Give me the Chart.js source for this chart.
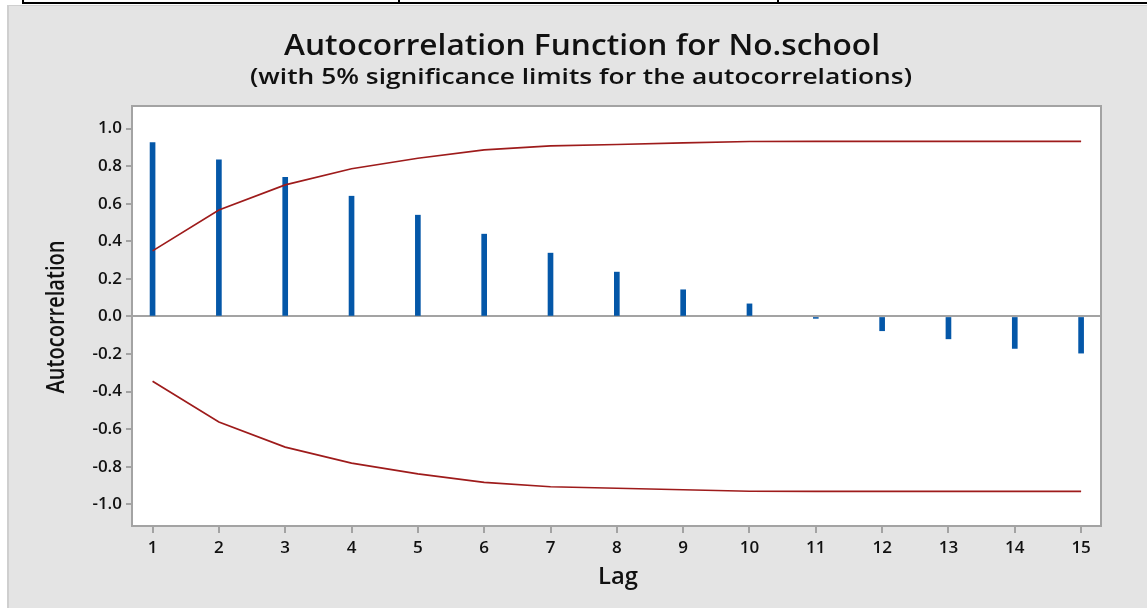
<!DOCTYPE html>
<html lang="en">
<head>
<meta charset="UTF-8">
<title>Autocorrelation Function for No.school</title>
<script src="https://cdn.jsdelivr.net/npm/chart.js"></script>
<style>
  body { margin: 0; background: #fff; }
  #acf { display: block; }
</style>
</head>
<body>
<canvas id="acf" width="1147" height="608"></canvas>
<script>
// values
var lags = [1, 2, 3, 4, 5, 6, 7, 8, 9, 10, 11, 12, 13, 14, 15];
var acfValues = [0.925, 0.833, 0.741, 0.640, 0.539, 0.438, 0.337, 0.236, 0.142, 0.067, -0.010, -0.076, -0.119, -0.170, -0.195];
var upperLimit = [0.349, 0.567, 0.700, 0.786, 0.842, 0.887, 0.908, 0.915, 0.924, 0.931, 0.932, 0.932, 0.932, 0.932, 0.932];
var lowerLimit = [-0.345, -0.562, -0.695, -0.780, -0.838, -0.883, -0.906, -0.914, -0.922, -0.930, -0.931, -0.931, -0.931, -0.931, -0.931];
var yTicks = [-1.0, -0.8, -0.6, -0.4, -0.2, 0.0, 0.2, 0.4, 0.6, 0.8, 1.0];

var mainTitle = 'Autocorrelation Function for No.school';
var subTitle = '(with 5% significance limits for the autocorrelations)';
var yTitle = 'Autocorrelation';
var xTitle = 'Lag';

var FONT = '"Open Sans", "DejaVu Sans", sans-serif';
var axisGray = '#a3a3a3';

function pts(ys) {
    return lags.map(function (x, i) { return { x: x, y: ys[i] }; });
}

// the original picture is stretched, so texts get squeezed/widened to its size
function fitText(c, text, font, cx, cy, width, angle) {
    c.save();
    c.font = font;
    var w = c.measureText(text).width;
    c.translate(cx, cy);
    if (angle) c.rotate(angle);
    c.scale(width / w, 1);
    c.textAlign = 'center';
    c.textBaseline = 'alphabetic';
    c.fillText(text, 0, 0);
    c.restore();
}

// background, the table edge at the top, plot frame and the titles
var framePlugin = {
    id: 'frame',
    beforeDraw: function (chart) {
        var c = chart.ctx, a = chart.chartArea;
        c.save();
        c.fillStyle = '#ffffff';
        c.fillRect(0, 0, chart.width, chart.height);
        c.fillStyle = '#e4e4e4';
        c.fillRect(7, 5, chart.width - 7, chart.height - 5);
        c.fillStyle = '#cfcfcf';
        c.fillRect(7, 5, 2, chart.height - 5);
        c.fillRect(7, 5, chart.width - 7, 1);
        // table lines above the picture
        c.fillStyle = '#000';
        c.fillRect(22, 2, chart.width - 22, 2);
        [22, 398, 777].forEach(function (x) { c.fillRect(x, 0, 2, 4); });
        c.fillStyle = '#ffffff';
        c.fillRect(a.left, a.top, a.right - a.left, a.bottom - a.top);
        c.restore();
    },
    afterDraw: function (chart) {
        var c = chart.ctx, a = chart.chartArea;
        c.save();
        c.strokeStyle = axisGray;
        c.lineWidth = 2;
        c.strokeRect(a.left, a.top, a.right - a.left, a.bottom - a.top);
        c.fillStyle = '#111';
        fitText(c, mainTitle, '600 29px ' + FONT, 582, 55, 596);
        fitText(c, subTitle, '600 21px ' + FONT, 581, 84, 662);
        fitText(c, xTitle, '600 23px ' + FONT, 618, 584, 40);
        fitText(c, yTitle, '600 25px ' + FONT, 64, 317, 153, -Math.PI / 2);
        c.restore();
    }
};

var ctx = document.getElementById('acf').getContext('2d');
var acfChart = new Chart(ctx, {
    type: 'bar',
    data: {
        datasets: [
            {
                type: 'line',
                data: pts(upperLimit),
                borderColor: '#9e1b1b',
                borderWidth: 1.7,
                pointRadius: 0,
                tension: 0
            },
            {
                type: 'line',
                data: pts(lowerLimit),
                borderColor: '#9e1b1b',
                borderWidth: 1.7,
                pointRadius: 0,
                tension: 0
            },
            {
                type: 'bar',
                data: pts(acfValues),
                backgroundColor: '#0457a8',
                barThickness: 5
            }
        ]
    },
    options: {
        responsive: false,
        animation: false,
        layout: { padding: { top: 106, right: 46, left: 0, bottom: 0 } },
        plugins: {
            legend: { display: false },
            tooltip: { enabled: false }
        },
        scales: {
            x: {
                type: 'linear',
                offset: false,
                min: 0.69,
                max: 15.3,
                afterBuildTicks: function (s) { s.ticks = lags.map(function (v) { return { value: v }; }); },
                afterFit: function (s) { s.height = 82; },
                grid: { offset: false, drawOnChartArea: false, tickLength: 7, tickColor: axisGray, lineWidth: 2 },
                border: { display: false },
                ticks: {
                    color: '#111',
                    padding: 5,
                    maxRotation: 0,
                    font: { family: FONT, size: 17, weight: '600' },
                    callback: function (v) { return String(v); }
                }
            },
            y: {
                min: -1.115,
                max: 1.12,
                afterBuildTicks: function (s) { s.ticks = yTicks.map(function (v) { return { value: v }; }); },
                afterFit: function (s) { s.width = 132; },
                grid: {
                    color: function (c) { return c.tick && Math.abs(c.tick.value) < 1e-9 ? axisGray : 'rgba(0,0,0,0)'; },
                    tickColor: axisGray,
                    lineWidth: 2,
                    tickLength: 6
                },
                border: { display: false },
                ticks: {
                    color: '#111',
                    padding: 4,
                    font: { family: FONT, size: 17, weight: '600' },
                    callback: function (v) { return Number(v).toFixed(1); }
                }
            }
        }
    },
    plugins: [framePlugin]
});
</script>
</body>
</html>
